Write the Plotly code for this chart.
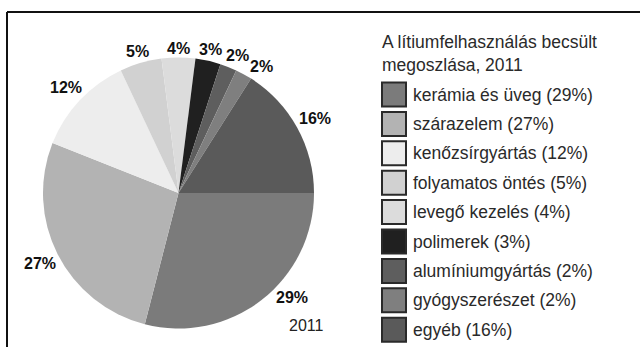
import math
import plotly.graph_objects as go

# Estimated lithium end-use shares, 2011
categories = ["kerámia és üveg", "szárazelem", "kenőzsírgyártás", "folyamatos öntés",
              "levegő kezelés", "polimerek", "alumíniumgyártás", "gyógyszerészet", "egyéb"]
shares = [29, 27, 12, 5, 4, 3, 2, 2, 16]
greys = ["#7b7b7b", "#b3b3b3", "#ededed", "#d1d1d1", "#dcdcdc",
         "#202020", "#5e5e5e", "#7f7f7f", "#5a5a5a"]
legend_title = ["A lítiumfelhasználás becsült", "megoszlása, 2011"]
year_label = "2011"

W, H = 640, 347
FONT = "Liberation Sans, Arial, sans-serif"

# pie geometry in pixels
CX, CY, R = 178.5, 193, 135.5


def px(x):
    return x / W


def py(y):
    return 1 - y / H


fig = go.Figure()

fig.add_trace(go.Pie(
    labels=categories,
    values=shares,
    sort=False,
    direction="clockwise",
    rotation=90,
    marker=dict(colors=greys, line=dict(width=0)),
    textinfo="none",
    showlegend=False,
    domain=dict(x=[px(CX - R), px(CX + R)], y=[py(CY + R), py(CY - R)]),
))

shapes = []
annotations = []

# percentage labels just outside each slice, at the slice's mid angle
# (small hand nudges keep the crowded ones apart)
label_nudge = {"kerámia és üveg": (20, -16), "alumíniumgyártás": (4, 1),
               "gyógyszerészet": (11, 5)}
total = sum(shares)
cum = 0
for cat, val in zip(categories, shares):
    mid = (cum + val / 2) / total * 2 * math.pi  # clockwise from 3 o'clock
    cum += val
    txt = f"{val}%"
    half_w = 4 * len(txt) + 4
    c, s = math.cos(mid), math.sin(mid)
    dist = R + 3 + abs(c) * half_w + abs(s) * 6
    nx, ny = label_nudge.get(cat, (0, 0))
    annotations.append(dict(
        xref="paper", yref="paper",
        x=px(CX + dist * c + nx), y=py(CY + dist * s + ny),
        xanchor="center", yanchor="middle", showarrow=False,
        text=f"<b>{txt}</b>",
        font=dict(family=FONT, size=16, color="#111111"),
    ))

# frame lines along the top and left edge
shapes.append(dict(type="line", xref="paper", yref="paper",
                   x0=px(7), x1=px(W + 5), y0=py(12), y1=py(12),
                   line=dict(color="#111111", width=2)))
shapes.append(dict(type="line", xref="paper", yref="paper",
                   x0=px(7), x1=px(7), y0=py(12), y1=py(H + 5),
                   line=dict(color="#111111", width=2)))

# legend title
annotations.append(dict(
    xref="paper", yref="paper", x=px(380), y=py(30),
    xanchor="left", yanchor="top", align="left", showarrow=False,
    text="<br>".join(legend_title),
    font=dict(family=FONT, size=17.5, color="#2a2a2a"),
))

# legend rows: swatch + label
row0, step = 94.5, 29.4
for i, (cat, val, col) in enumerate(zip(categories, shares, greys)):
    yc = row0 + step * i
    shapes.append(dict(type="rect", xref="paper", yref="paper",
                       x0=px(382), x1=px(406), y0=py(yc + 12), y1=py(yc - 12),
                       fillcolor=col, line=dict(color="#2a2a2a", width=2)))
    annotations.append(dict(
        xref="paper", yref="paper", x=px(411), y=py(yc),
        xanchor="left", yanchor="middle", showarrow=False,
        text=f"{cat} ({val}%)",
        font=dict(family=FONT, size=17.5, color="#2a2a2a"),
    ))

# year caption under the pie
annotations.append(dict(
    xref="paper", yref="paper", x=px(306), y=py(325),
    xanchor="center", yanchor="middle", showarrow=False,
    text=year_label,
    font=dict(family=FONT, size=16, color="#222222"),
))

fig.update_layout(
    width=W, height=H,
    margin=dict(l=0, r=0, t=0, b=0),
    paper_bgcolor="white",
    plot_bgcolor="white",
    shapes=shapes,
    annotations=annotations,
)

fig.write_html("out.html")
